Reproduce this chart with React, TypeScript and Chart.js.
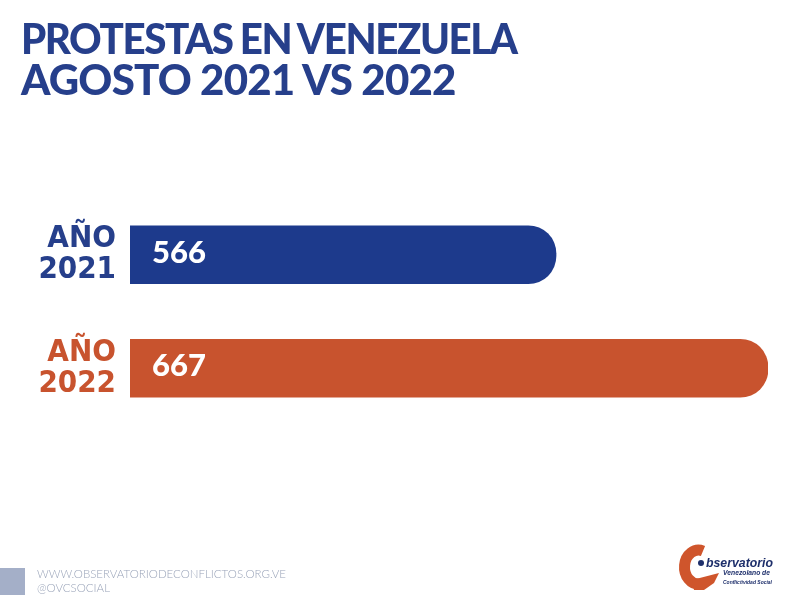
import React, { useEffect, useRef } from "react";
import { Chart, registerables } from "chart.js";

Chart.register(...registerables);

const categories = [["AÑO", "2021"], ["AÑO", "2022"]];
const values = [566, 667];
const barColors = ["#1d3a8c", "#c8532e"];
const labelColors = ["#263f8b", "#c8532e"];
const titleLines = ["PROTESTAS EN VENEZUELA", "AGOSTO 2021 VS 2022"];
const footerLines = ["WWW.OBSERVATORIODECONFLICTOS.ORG.VE", "@OVCSOCIAL"];
const axisMin = 363;
const axisMax = 667;

const valuePlugin = {
  id: "valueLabels",
  afterDatasetsDraw(chart: any) {
    const ctx = chart.ctx;
    const meta = chart.getDatasetMeta(0);
    ctx.save();
    ctx.fillStyle = "#ffffff";
    ctx.font = "900 31px Lato";
    ctx.textBaseline = "alphabetic";
    ctx.textAlign = "left";
    meta.data.forEach((el: any, i: number) => {
      ctx.fillText(String(values[i]), chart.chartArea.left + 22, el.y + 8);
    });
    ctx.restore();
  },
};

function App() {
  const ref = useRef<HTMLCanvasElement | null>(null);
  useEffect(() => {
    if (!ref.current) return;
    const chart = new Chart(ref.current, {
      type: "bar",
      data: {
        labels: categories,
        datasets: [
          {
            data: values,
            backgroundColor: barColors,
            barThickness: 58,
            borderRadius: 28,
          },
        ],
      },
      options: {
        indexAxis: "y",
        animation: false,
        responsive: true,
        maintainAspectRatio: false,
        layout: { padding: { top: 198, bottom: 188, right: 25, left: 0 } },
        plugins: { legend: { display: false }, tooltip: { enabled: false }, title: { display: false } },
        scales: {
          x: { display: false, min: axisMin, max: axisMax },
          y: {
            afterFit(scale: any) {
              scale.width = 130;
            },
            grid: { display: false, drawTicks: false },
            border: { display: false },
            ticks: {
              padding: 14,
              color: (c: any) => labelColors[c.index] || "#263f8b",
              font: { family: "'Liberation Sans Narrow', 'DejaVu Sans Condensed', sans-serif", weight: "bold", size: 31, lineHeight: 0.99 },
            },
          },
        },
      },
      plugins: [valuePlugin],
    });
    return () => chart.destroy();
  }, []);

  const navy = "#1e2f6b";
  const orange = "#cf552c";

  return (
    <div style={{ position: "absolute", left: 0, top: 0, width: 793, height: 613, background: "#ffffff", overflow: "hidden" }}>
      <div style={{ position: "absolute", left: 0, top: 0, width: 793, height: 613 }}>
        <canvas ref={ref} />
      </div>
      <div
        style={{
          position: "absolute",
          left: 21,
          top: 18,
          fontFamily: "Lato, sans-serif",
          fontWeight: 900,
          fontSize: 42,
          lineHeight: "41px",
          color: "#263f8b",
          whiteSpace: "nowrap",
        }}
      >
        <div style={{ letterSpacing: -1.5, wordSpacing: -1, transform: "scaleX(0.96)", transformOrigin: "left center" }}>{titleLines[0]}</div>
        <div style={{ letterSpacing: -0.8 }}>{titleLines[1]}</div>
      </div>
      <div style={{ position: "absolute", left: 0, top: 568, width: 25, height: 27, background: "#a4afc8" }} />
      <div
        style={{
          position: "absolute",
          left: 37,
          top: 567,
          fontFamily: "Lato, sans-serif",
          fontWeight: 300,
          fontSize: 11.5,
          lineHeight: "14px",
          color: "#9aa4b9",
          whiteSpace: "nowrap",
        }}
      >
        {footerLines.map((t, i) => (
          <div key={i}>{t}</div>
        ))}
      </div>
      <svg style={{ position: "absolute", left: 670, top: 538 }} width={123} height={60} viewBox="0 0 123 60">
        <path d="M 33 13 A 14 17 0 1 0 30 46" fill="none" stroke={orange} strokeWidth={11} />
        <polygon points="22,42 49,35 44,45 34,52 24,52" fill={orange} />
        <circle cx={31} cy={25} r={3} fill={navy} />
        <text x={36} y={29} fontFamily="'Liberation Sans', sans-serif" fontWeight="bold" fontStyle="italic" fontSize={13} fill={navy} textLength={67} lengthAdjust="spacingAndGlyphs">
          bservatorio
        </text>
        <text x={53} y={37} fontFamily="'Liberation Sans', sans-serif" fontWeight="bold" fontStyle="italic" fontSize={7.5} fill={navy} textLength={47} lengthAdjust="spacingAndGlyphs">
          Venezolano de
        </text>
        <text x={53} y={46} fontFamily="'Liberation Sans', sans-serif" fontWeight="bold" fontStyle="italic" fontSize={6} fill={navy} textLength={49} lengthAdjust="spacingAndGlyphs">
          Conflictividad Social
        </text>
      </svg>
    </div>
  );
}

export default App;
